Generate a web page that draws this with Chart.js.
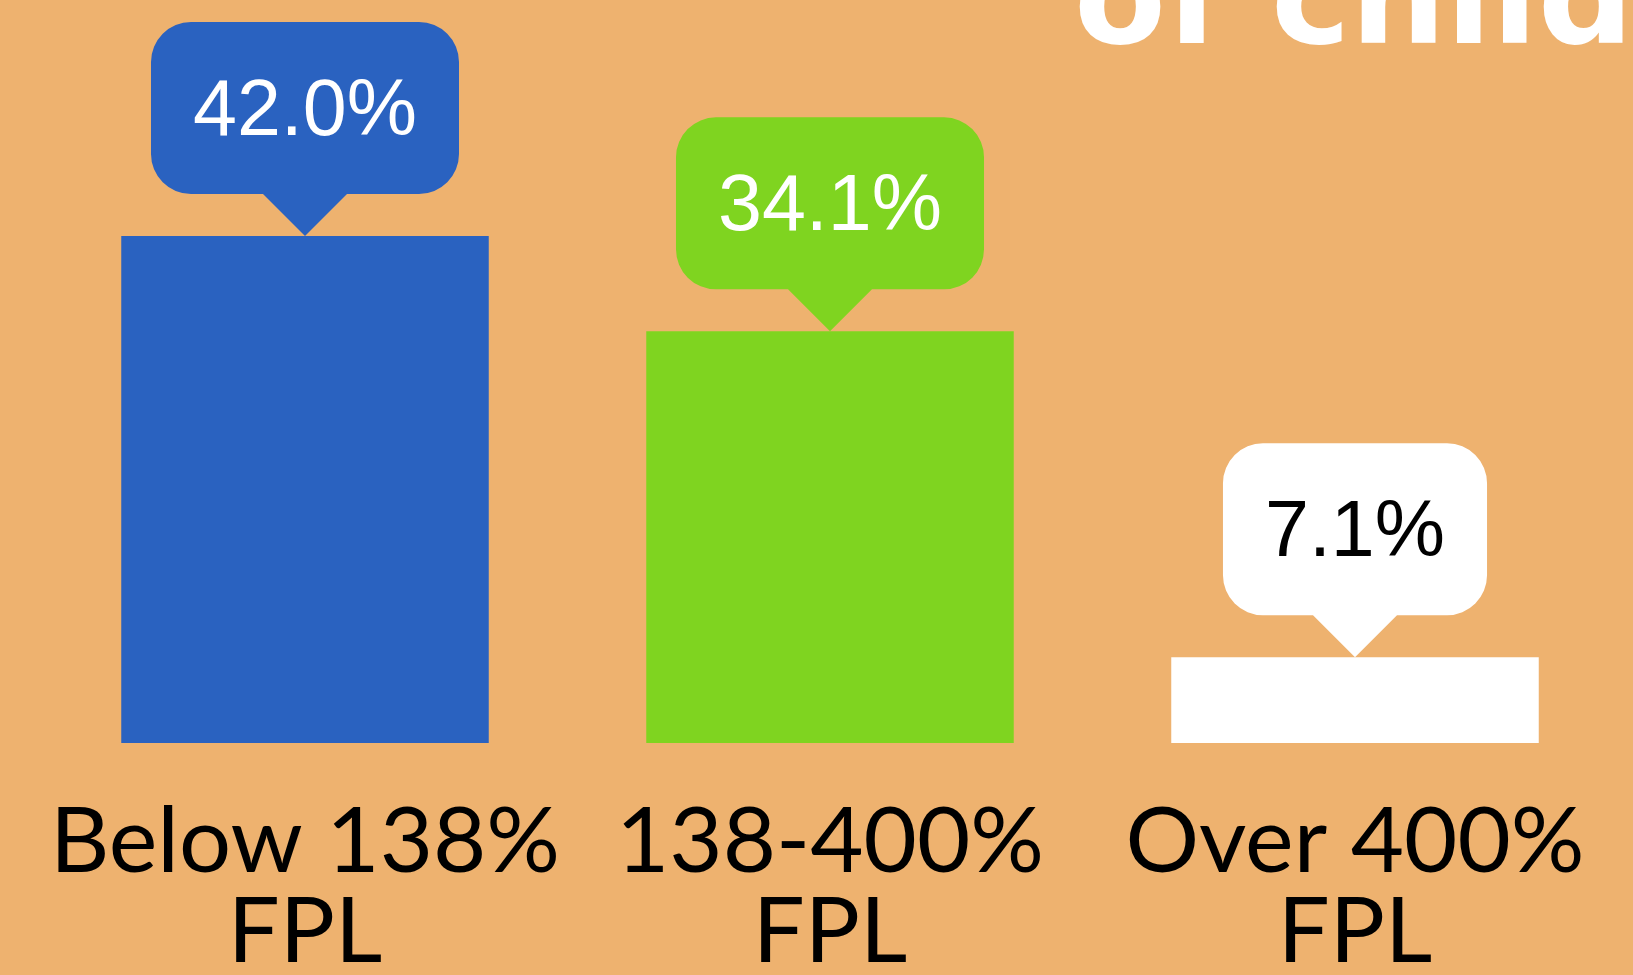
<!DOCTYPE html>
<html>
<head>
<meta charset="utf-8">
<script src="https://cdn.jsdelivr.net/npm/chart.js@4.4.1/dist/chart.umd.min.js"></script>
<style>
  html, body { margin: 0; padding: 0; background: #EEB26F; overflow: hidden; }
  #wrap { position: relative; width: 1633px; height: 975px; }
</style>
</head>
<body>
<div id="wrap"><canvas id="c"></canvas></div>
<script>
// ---- data ----
const categories = [["Below 138%", "FPL"], ["138-400%", "FPL"], ["Over 400%", "FPL"]];
const values = [42.0, 34.1, 7.1];
const barColors = ["#2A62C0", "#7FD420", "#FFFFFF"];
const calloutTextColors = ["#FFFFFF", "#FFFFFF", "#000000"];
const titleFragment = "of child";

const BG = "#EEB26F";

const calloutPlugin = {
  id: 'callouts',
  afterDatasetsDraw(chart) {
    const ctx = chart.ctx;
    const meta = chart.getDatasetMeta(0);
    ctx.save();
    ctx.font = '79px "Liberation Sans", Arial, sans-serif';
    meta.data.forEach((bar, i) => {
      const x = bar.x, y = bar.y;
      const text = values[i].toFixed(1) + '%';
      const tw = ctx.measureText(text).width;
      const w = tw + 84, h = 172, r = 40, ph = 42, pw = 84;
      const bottom = y - ph, top = bottom - h, left = x - w / 2, right = x + w / 2;
      ctx.beginPath();
      ctx.moveTo(left + r, top);
      ctx.lineTo(right - r, top);
      ctx.arcTo(right, top, right, top + r, r);
      ctx.lineTo(right, bottom - r);
      ctx.arcTo(right, bottom, right - r, bottom, r);
      ctx.lineTo(x + pw / 2, bottom);
      ctx.lineTo(x, y);
      ctx.lineTo(x - pw / 2, bottom);
      ctx.lineTo(left + r, bottom);
      ctx.arcTo(left, bottom, left, bottom - r, r);
      ctx.lineTo(left, top + r);
      ctx.arcTo(left, top, left + r, top, r);
      ctx.closePath();
      ctx.fillStyle = barColors[i];
      ctx.fill();
      ctx.fillStyle = calloutTextColors[i];
      ctx.textAlign = 'center';
      ctx.textBaseline = 'alphabetic';
      ctx.fillText(text, x, top + 113);
    });
    ctx.restore();
  },
  afterDraw(chart) {
    const ctx = chart.ctx;
    ctx.save();
    ctx.font = 'bold 134px "DejaVu Sans", sans-serif';
    ctx.fillStyle = '#FFFFFF';
    ctx.textAlign = 'left';
    ctx.textBaseline = 'alphabetic';
    ctx.fillText(titleFragment, 1074, 43);
    ctx.restore();
  }
};

const bgPlugin = {
  id: 'bg',
  beforeDraw(chart) {
    const ctx = chart.ctx;
    ctx.save();
    ctx.fillStyle = BG;
    ctx.fillRect(0, 0, chart.width, chart.height);
    ctx.restore();
  }
};

new Chart(document.getElementById('c'), {
  type: 'bar',
  data: {
    labels: categories,
    datasets: [{
      data: values,
      backgroundColor: barColors,
      borderWidth: 0,
      barPercentage: 0.7,
      categoryPercentage: 1.0
    }]
  },
  options: {
    responsive: true,
    maintainAspectRatio: false,
    animation: false,
    layout: { padding: { left: 42.5, right: 15.5, top: 139.4, bottom: 0 } },
    plugins: { legend: { display: false }, tooltip: { enabled: false } },
    scales: {
      x: {
        grid: { display: false, drawTicks: false },
        border: { display: false },
        ticks: {
          color: '#000000',
          padding: 54,
          font: { family: 'Lato', size: 92, lineHeight: 90 / 92 },
          maxRotation: 0, minRotation: 0, autoSkip: false
        },
        afterFit(scale) {
          scale.paddingLeft = 0;
          scale.paddingRight = 0;
          scale.height = 232;
        }
      },
      y: { display: false, min: 0, max: 50 }
    }
  },
  plugins: [bgPlugin, calloutPlugin]
});
</script>
</body>
</html>
